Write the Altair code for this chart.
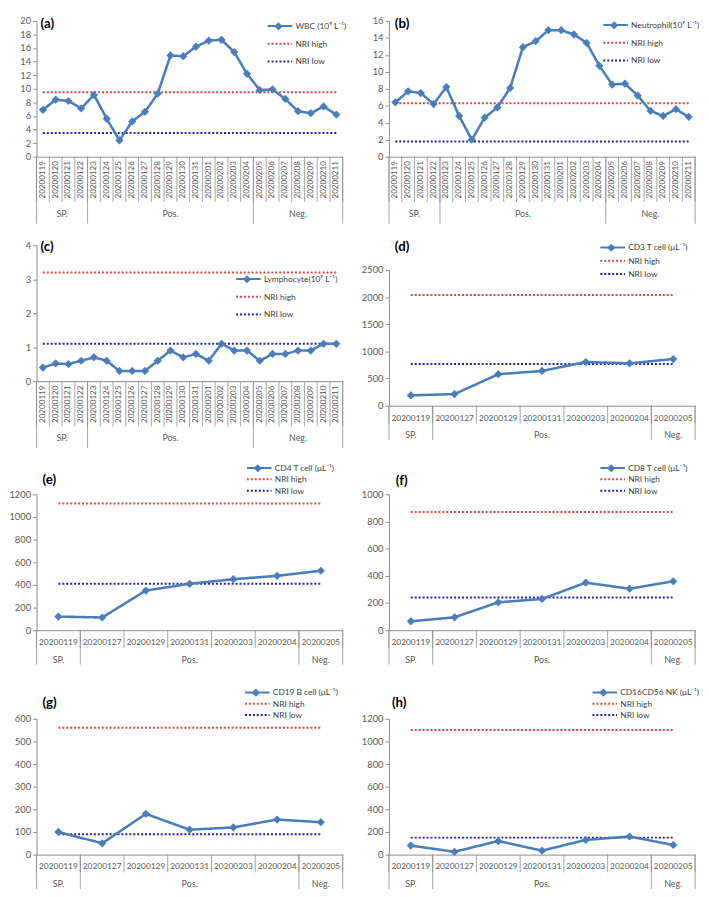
import altair as alt
import pandas as pd

# ---------------- data ----------------
dates_daily = ["20200119", "20200120", "20200121", "20200122", "20200123", "20200124",
               "20200125", "20200126", "20200127", "20200128", "20200129", "20200130",
               "20200131", "20200201", "20200202", "20200203", "20200204", "20200205",
               "20200206", "20200207", "20200208", "20200209", "20200210", "20200211"]
dates_cells = ["20200119", "20200127", "20200129", "20200131", "20200203", "20200204", "20200205"]

group_names = ["SP.", "Pos.", "Neg."]
group_counts_daily = [4, 13, 7]
group_counts_cells = [1, 5, 1]

wbc = [6.9, 8.4, 8.2, 7.1, 9.1, 5.6, 2.4, 5.2, 6.6, 9.3, 14.9, 14.8,
       16.2, 17.1, 17.2, 15.4, 12.2, 9.8, 9.9, 8.5, 6.7, 6.4, 7.4, 6.2]
neutrophil = [6.4, 7.7, 7.5, 6.2, 8.2, 4.8, 2.0, 4.6, 5.8, 8.1, 12.9, 13.6,
              14.9, 14.9, 14.4, 13.4, 10.7, 8.5, 8.6, 7.2, 5.4, 4.8, 5.6, 4.7]
lymphocyte = [0.4, 0.52, 0.5, 0.6, 0.7, 0.6, 0.3, 0.3, 0.3, 0.6, 0.9, 0.7,
              0.8, 0.6, 1.1, 0.9, 0.9, 0.6, 0.8, 0.8, 0.9, 0.9, 1.1, 1.1]
cd3 = [190, 215, 580, 640, 805, 780, 860]
cd4 = [120, 112, 350, 410, 450, 480, 525]
cd8 = [65, 95, 205, 230, 350, 305, 360]
cd19 = [100, 50, 180, 110, 120, 155, 143]
nk = [80, 25, 120, 35, 130, 160, 85]

series_names = ["WBC (10⁹ L⁻¹)", "Neutrophil(10⁹ L⁻¹)", "Lymphocyte(10⁹ L⁻¹)",
                "CD3 T cell (μL⁻¹)", "CD4 T cell (μL⁻¹)", "CD8 T cell (μL⁻¹)",
                "CD19 B cell (μL⁻¹)", "CD16CD56 NK (μL⁻¹)"]
tags = ["(a)", "(b)", "(c)", "(d)", "(e)", "(f)", "(g)", "(h)"]
nri_high = [9.5, 6.3, 3.2, 2040, 1120, 870, 560, 1100]
nri_low = [3.5, 1.8, 1.1, 770, 410, 240, 90, 150]
y_max = [20, 16, 4, 2500, 1200, 1000, 600, 1200]
y_step = [2, 2, 1, 500, 200, 200, 100, 200]
ref_names = ["NRI high", "NRI low"]

# ---------------- style / layout ----------------
BLUE = "#4A7EBB"
RED = "#E0443E"
NAVY = "#1F1FB0"
AXIS = "#8C8C8C"
TXT = "#595959"
FONT = "Lato"
W = 311
H = 138
PT_SIZE = 70

layout = [
    # cell_h, plot_top, legendX, legendY, rowPad, tag x, tag y
    dict(cell_h=H, top=0, lx=243, ly=1, rp=9, dx=4, dy=3),
    dict(cell_h=H, top=0, lx=226, ly=0, rp=9, dx=6, dy=3),
    dict(cell_h=H, top=0, lx=211, ly=30, rp=9, dx=4, dy=2),
    dict(cell_h=H + 25, top=25, lx=223, ly=-2, rp=4.5, dx=6, dy=2),
    dict(cell_h=H, top=0, lx=222, ly=-31, rp=2.5, dx=6, dy=-14),
    dict(cell_h=H, top=0, lx=223, ly=-31, rp=2.5, dx=7, dy=-13),
    dict(cell_h=H, top=0, lx=220, ly=-31, rp=2.5, dx=6, dy=-16),
    dict(cell_h=H, top=0, lx=215, ly=-31, rp=2.5, dx=3, dy=-16),
]
values_list = [wbc, neutrophil, lymphocyte, cd3, cd4, cd8, cd19, nk]


def make_panel(i):
    lay = layout[i]
    daily = i < 3
    dates = dates_daily if daily else dates_cells
    counts = group_counts_daily if daily else group_counts_cells
    n = len(dates)
    name = series_names[i]
    cell_h = lay["cell_h"]

    main_df = pd.DataFrame({"date": dates, "series": name, "value": values_list[i]})
    nri_df = pd.concat([
        pd.DataFrame({"date": dates, "series": ref_names[0], "value": nri_high[i]}),
        pd.DataFrame({"date": dates, "series": ref_names[1], "value": nri_low[i]}),
    ], ignore_index=True)

    domain = [name] + ref_names
    legend = alt.Legend(
        title=None, orient="none", legendX=lay["lx"], legendY=lay["ly"],
        symbolType="M-5,0H5", symbolSize=25, symbolStrokeWidth=2,
        labelFont=FONT, labelFontSize=8.5, labelColor="#404040", labelOffset=11.5,
        rowPadding=lay["rp"], padding=0, labelLimit=250,
    )
    color = alt.Color("series:N", scale=alt.Scale(domain=domain, range=[BLUE, RED, NAVY]), legend=legend)
    dash = alt.StrokeDash("series:N", scale=alt.Scale(domain=domain, range=[[1, 0], [2, 2], [2, 2]]), legend=legend)
    # diamond marker drawn on the first legend entry
    shape_legend = alt.Legend(
        title=None, orient="none", legendX=lay["lx"] + 2.5 - (PT_SIZE ** 0.5) / 2, legendY=lay["ly"],
        symbolSize=PT_SIZE, symbolFillColor=BLUE, symbolStrokeColor=BLUE, symbolStrokeWidth=0,
        symbolOpacity=1, labelFontSize=8.5, labelExpr="''", padding=0,
    )
    shape = alt.Shape("series:N", scale=alt.Scale(domain=[name], range=["diamond"]), legend=shape_legend)

    if daily:
        xaxis = alt.Axis(labelAngle=-90, labelFontSize=8.2, labelFont=FONT, labelColor=TXT,
                         ticks=False, tickSize=0, labelPadding=4, domainColor=AXIS,
                         labelOverlap=False, grid=False, title=None)
        tick_len, sep_len, grp_off = 46, 68, 58
    else:
        xaxis = alt.Axis(labelAngle=0, labelFontSize=8.5, labelFont=FONT, labelColor=TXT,
                         ticks=False, tickSize=0, labelPadding=7.5, domainColor=AXIS,
                         labelOverlap=False, grid=False, title=None)
        tick_len, sep_len, grp_off = 18, 35, 30

    x = alt.X("date:N", sort=dates,
              scale=alt.Scale(type="band", paddingInner=0, paddingOuter=0), axis=xaxis)
    yvals = list(range(0, y_max[i] + 1, y_step[i]))
    y = alt.Y("value:Q",
              scale=alt.Scale(domain=[0, y_max[i]], range=[cell_h, lay["top"]], nice=False),
              axis=alt.Axis(values=yvals, format="d", labelFont=FONT, labelFontSize=9.5,
                            labelColor=TXT, domainColor=AXIS, tickColor=AXIS, tickSize=4,
                            labelPadding=2, grid=False, title=None, labelFlush=False,
                            labelOverlap=False))

    nri_layer = alt.Chart(nri_df).mark_line(strokeWidth=2).encode(x=x, y=y, color=color, strokeDash=dash)
    line_layer = alt.Chart(main_df).mark_line(strokeWidth=2.6).encode(x=x, y=y, color=color, strokeDash=dash)
    pt_layer = alt.Chart(main_df).mark_point(filled=True, size=PT_SIZE, opacity=1,
                                             color=BLUE).encode(x=x, y=y, shape=shape)
    main = alt.layer(nri_layer, line_layer, pt_layer)

    # multi-level category axis decorations (index scale)
    starts = [0]
    for c in counts:
        starts.append(starts[-1] + c)
    centers = [starts[k] + counts[k] / 2 for k in range(len(counts))]
    bnd_df = pd.DataFrame({"idx": list(range(n + 1))})
    sep_df = pd.DataFrame({"idx": starts})
    grp_df = pd.DataFrame({"idx": centers, "group": group_names})
    xi = alt.X("idx:Q", scale=alt.Scale(domain=[0, n], nice=False, zero=False), axis=None)
    ticks = alt.Chart(bnd_df).mark_rule(color=AXIS, strokeWidth=0.8).encode(
        x=xi, y=alt.value(cell_h), y2=alt.value(cell_h + tick_len))
    seps = alt.Chart(sep_df).mark_rule(color=AXIS, strokeWidth=0.8).encode(
        x=xi, y=alt.value(cell_h), y2=alt.value(cell_h + sep_len))
    grps = alt.Chart(grp_df).mark_text(font=FONT, fontSize=9, color=TXT, baseline="middle").encode(
        x=xi, y=alt.value(cell_h + grp_off), text="group:N")
    deco = alt.layer(ticks, seps, grps)

    tag_df = pd.DataFrame({"tag": [tags[i]]})
    tag = alt.Chart(tag_df).mark_text(font=FONT, fontSize=13.5, fontWeight="bold", color="black",
                                      align="left", baseline="middle").encode(
        x=alt.value(lay["dx"]), y=alt.value(lay["dy"]), text="tag:N")

    return alt.layer(main, deco, tag).resolve_scale(x="independent").properties(
        width=W, height=cell_h)


panels = [make_panel(i) for i in range(8)]

chart = alt.concat(
    *panels, columns=2, spacing={"row": 90, "column": 47}, bounds="flush", align="each"
).resolve_scale(
    color="independent", strokeDash="independent", shape="independent"
).properties(
    padding=0
).configure(
    font=FONT
).configure_view(
    stroke="transparent"
)

chart.save("out.html", embed_options={"renderer": "svg", "actions": False})
